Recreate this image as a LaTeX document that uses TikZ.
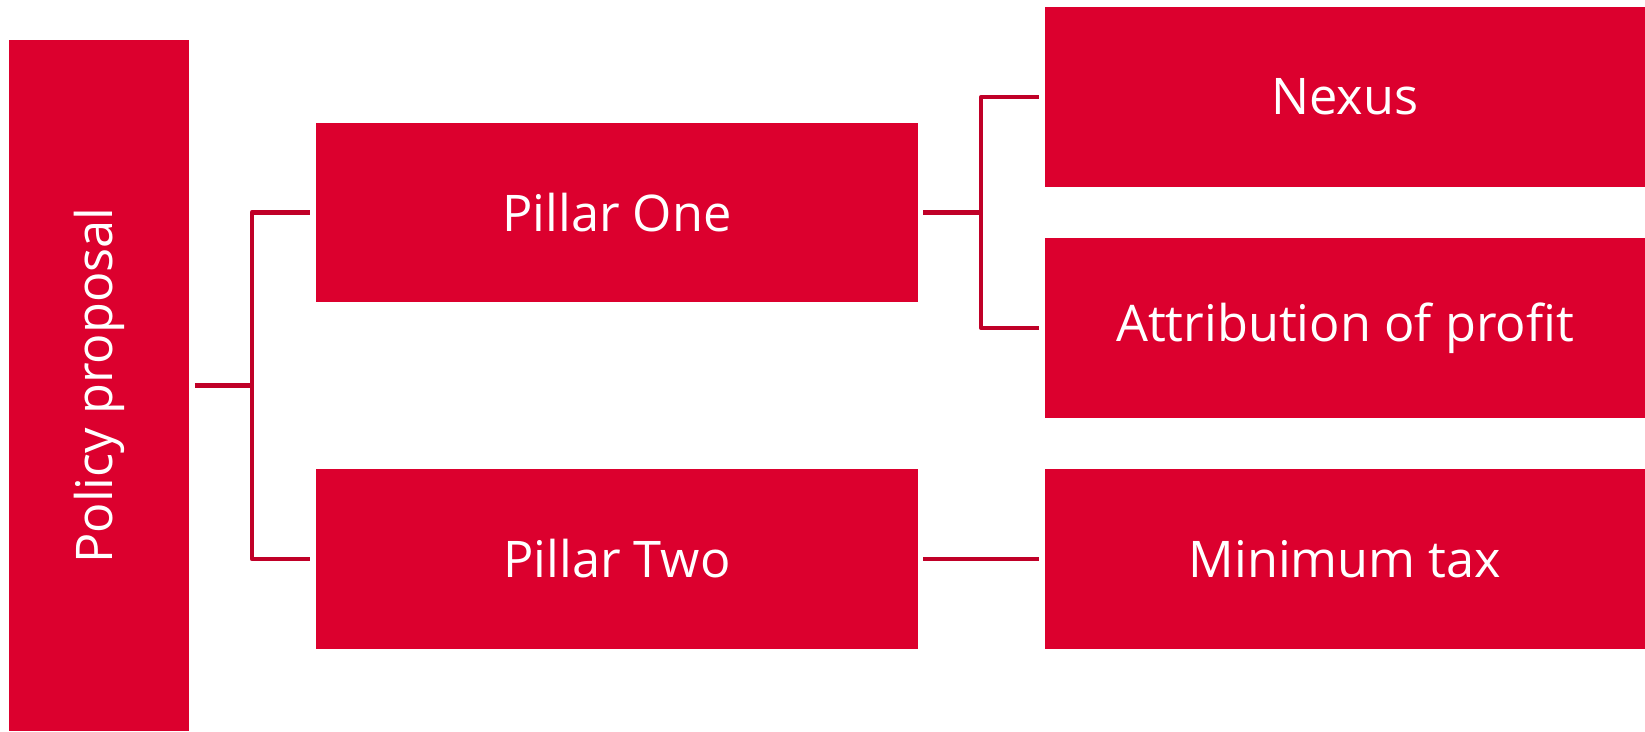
\documentclass[tikz,border=0pt]{standalone}
\usepackage{fontspec}
\setmainfont{Open Sans}
\definecolor{boxred}{RGB}{220,0,46}
\definecolor{linered}{RGB}{192,0,40}
\begin{document}
\begin{tikzpicture}[x=1pt,y=-1pt,
  box/.style={fill=boxred, draw=none, text=white, inner sep=0pt,
    font=\fontsize{50.5}{60}\selectfont, minimum width=602pt, minimum height=179.4pt},
  conn/.style={draw=linered, line width=4.5pt, line join=round}]
\useasboundingbox (0,0) rectangle (1645,731);
\node[box, minimum width=179.4pt, minimum height=691pt] (pol) at (99,385.5) {\rotatebox{90}{Policy proposal}};
\node[box] (p1) at (617,212.4) {Pillar One};
\node[box] (p2) at (617,559) {Pillar Two};
\node[box, minimum width=600pt] (nex) at (1345,97) {Nexus};
\node[box, minimum width=600pt] (att) at (1345,328) {Attribution of profit};
\node[box, minimum width=600pt] (min) at (1345,559) {Minimum tax};
\draw[conn] ([xshift=6pt]pol.east) -- ([xshift=63pt]pol.east);
\draw[conn] ([xshift=-6pt]p1.west) -| ([xshift=63pt]pol.east) |- ([xshift=-6pt]p2.west);
\draw[conn] ([xshift=5pt]p1.east) -- ([xshift=63pt]p1.east);
\draw[conn] ([xshift=-6pt]nex.west) -| ([xshift=63pt]p1.east) |- ([xshift=-6pt]att.west);
\draw[conn] ([xshift=5pt]p2.east) -- ([xshift=-6pt]min.west);
\end{tikzpicture}
\end{document}
